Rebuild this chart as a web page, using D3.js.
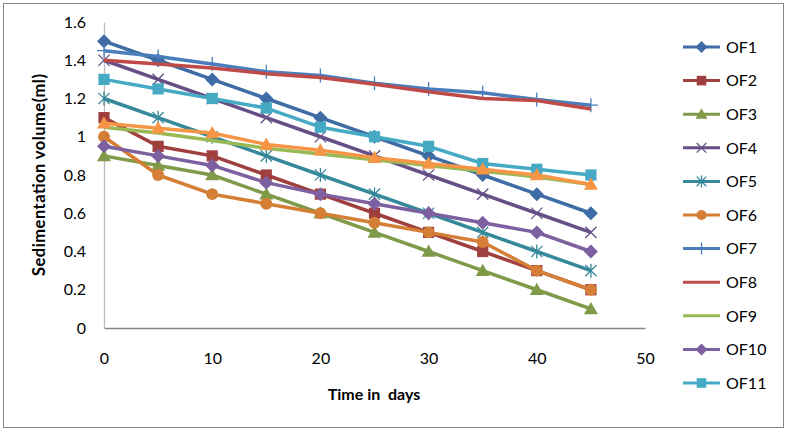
<!DOCTYPE html>
<html>
<head>
<meta charset="utf-8">
<script src="https://cdn.jsdelivr.net/npm/d3@7"></script>
<style>
  body { margin: 0; background: #fff; }
  text { font-family: Lato, "DejaVu Sans", sans-serif; fill: #000; }
</style>
</head>
<body>
<div class="container"></div>
<script>
// sedimentation volume (ml), one reading every 5 days
const days = [0, 5, 10, 15, 20, 25, 30, 35, 40, 45];
const names = ["OF1", "OF2", "OF3", "OF4", "OF5", "OF6", "OF7", "OF8", "OF9", "OF10", "OF11", "OF12"];
const of1  = [1.5, 1.4, 1.3, 1.2, 1.1, 1.0, 0.9, 0.8, 0.7, 0.6];
const of2  = [1.1, 0.95, 0.9, 0.8, 0.7, 0.6, 0.5, 0.4, 0.3, 0.2];
const of3  = [0.9, 0.85, 0.8, 0.7, 0.6, 0.5, 0.4, 0.3, 0.2, 0.1];
const of4  = [1.4, 1.3, 1.2, 1.1, 1.0, 0.9, 0.8, 0.7, 0.6, 0.5];
const of5  = [1.2, 1.1, 1.0, 0.9, 0.8, 0.7, 0.6, 0.5, 0.4, 0.3];
const of6  = [1.0, 0.8, 0.7, 0.65, 0.6, 0.55, 0.5, 0.45, 0.3, 0.2];
const of7  = [1.45, 1.42, 1.38, 1.34, 1.32, 1.28, 1.25, 1.23, 1.195, 1.165];
const of8  = [1.4, 1.38, 1.36, 1.33, 1.31, 1.275, 1.235, 1.2, 1.19, 1.145];
const of9  = [1.05, 1.02, 0.98, 0.94, 0.91, 0.88, 0.85, 0.82, 0.79, 0.75];
const of10 = [0.95, 0.9, 0.85, 0.76, 0.7, 0.65, 0.6, 0.55, 0.5, 0.4];
const of11 = [1.3, 1.25, 1.2, 1.15, 1.05, 1.0, 0.95, 0.86, 0.83, 0.8];
const of12 = [1.07, 1.045, 1.02, 0.96, 0.93, 0.89, 0.86, 0.83, 0.8, 0.75];
const values = [of1, of2, of3, of4, of5, of6, of7, of8, of9, of10, of11, of12];
const xTicks = [0, 10, 20, 30, 40, 50];
const yTicks = [0, 0.2, 0.4, 0.6, 0.8, 1, 1.2, 1.4, 1.6];

const colors = ["#3f6ca5", "#a0403e", "#7f9a48", "#654f86", "#36899b", "#d47f35",
                "#4a7ebb", "#be4b48", "#98b954", "#7d60a0", "#46aac5", "#f69546"];
const markers = ["diamond", "square", "triangle", "x", "star", "circle",
                 "plus", "none", "none", "diamond", "square", "triangle"];

const w = 789, h = 433;
const x = d3.scaleLinear().domain([0, 50]).range([104, 645]);
const y = d3.scaleLinear().domain([0, 1.6]).range([328, 22]);

const svg = d3.select(".container").append("svg")
  .attr("width", w).attr("height", h);

// chart border
svg.append("rect")
  .attr("x", 3.5).attr("y", 3.5).attr("width", 780).attr("height", 424)
  .attr("fill", "#fff").attr("stroke", "#868686").attr("stroke-width", 1);

const fmt = d => String(+d.toFixed(1));

const xAxis = svg.append("g")
  .attr("transform", `translate(0,${y(0)})`)
  .call(d3.axisBottom(x).tickValues(xTicks).tickSize(0).tickPadding(25).tickFormat(fmt));
xAxis.select(".domain").attr("stroke", "#868686").attr("stroke-width", 1.3);

const yAxis = svg.append("g")
  .attr("transform", `translate(${x(0)},0)`)
  .call(d3.axisLeft(y).tickValues(yTicks).tickSize(0).tickPadding(18).tickFormat(fmt));
yAxis.select(".domain").attr("stroke", "#bdbdbd").attr("stroke-width", 1.3);

svg.selectAll(".tick text").attr("font-size", 16).attr("font-family", "Lato").attr("fill", "#000");

svg.append("text")
  .attr("transform", `translate(45,${(y(0) + y(1.6)) / 2}) rotate(-90)`)
  .attr("text-anchor", "middle")
  .attr("font-size", 16.5).attr("font-weight", "bold")
  .attr("textLength", 202).attr("lengthAdjust", "spacing")
  .text("Sedimentation volume(ml)");

svg.append("text")
  .attr("x", 374).attr("y", 400)
  .attr("text-anchor", "middle")
  .attr("font-size", 16).attr("font-weight", "bold")
  .attr("xml:space", "preserve")
  .text("Time in  days");

function drawMarker(g, type, color, s) {
  if (type === "diamond") {
    g.append("path").attr("d", `M0,${-s}L${s},0L0,${s}L${-s},0Z`).attr("fill", color);
  } else if (type === "square") {
    g.append("rect").attr("x", -s * 0.8).attr("y", -s * 0.8)
      .attr("width", s * 1.6).attr("height", s * 1.6).attr("fill", color);
  } else if (type === "triangle") {
    g.append("path").attr("d", `M0,${-s}L${s},${s * 0.75}L${-s},${s * 0.75}Z`).attr("fill", color);
  } else if (type === "circle") {
    g.append("circle").attr("r", s * 0.85).attr("fill", color);
  } else if (type === "x" || type === "star" || type === "plus") {
    const a = s * 0.8;
    let d = "";
    if (type !== "plus") d += `M${-a},${-a}L${a},${a}M${-a},${a}L${a},${-a}`;
    if (type !== "x") d += `M0,${-s}L0,${s}`;
    if (type === "plus") d += `M${-s},0L${s},0`;
    g.append("path").attr("d", d).attr("stroke", color).attr("stroke-width", 1.3).attr("fill", "none");
  }
}

const line = d3.line().x(d => x(d[0])).y(d => y(d[1]));

names.forEach((name, i) => {
  const pts = days.map((d, j) => [d, values[i][j]]);
  const g = svg.append("g");
  g.append("path")
    .attr("d", line(pts))
    .attr("fill", "none")
    .attr("stroke", colors[i])
    .attr("stroke-width", 3.5)
    .attr("stroke-linejoin", "round");
  pts.forEach(p => {
    const m = g.append("g").attr("transform", `translate(${x(p[0])},${y(p[1])})`);
    drawMarker(m, markers[i], colors[i], 7);
  });
});

// legend (only the first eleven series are listed)
const legend = svg.append("g");
names.slice(0, 11).forEach((name, i) => {
  const ly = 47 + i * 33.6;
  legend.append("line")
    .attr("x1", 683).attr("x2", 720).attr("y1", ly).attr("y2", ly)
    .attr("stroke", colors[i]).attr("stroke-width", 3);
  const m = legend.append("g").attr("transform", `translate(701.5,${ly})`);
  drawMarker(m, markers[i], colors[i], 6);
  legend.append("text")
    .attr("x", 726).attr("y", ly).attr("dy", "0.36em")
    .attr("font-size", 16)
    .text(name);
});
</script>
</body>
</html>
